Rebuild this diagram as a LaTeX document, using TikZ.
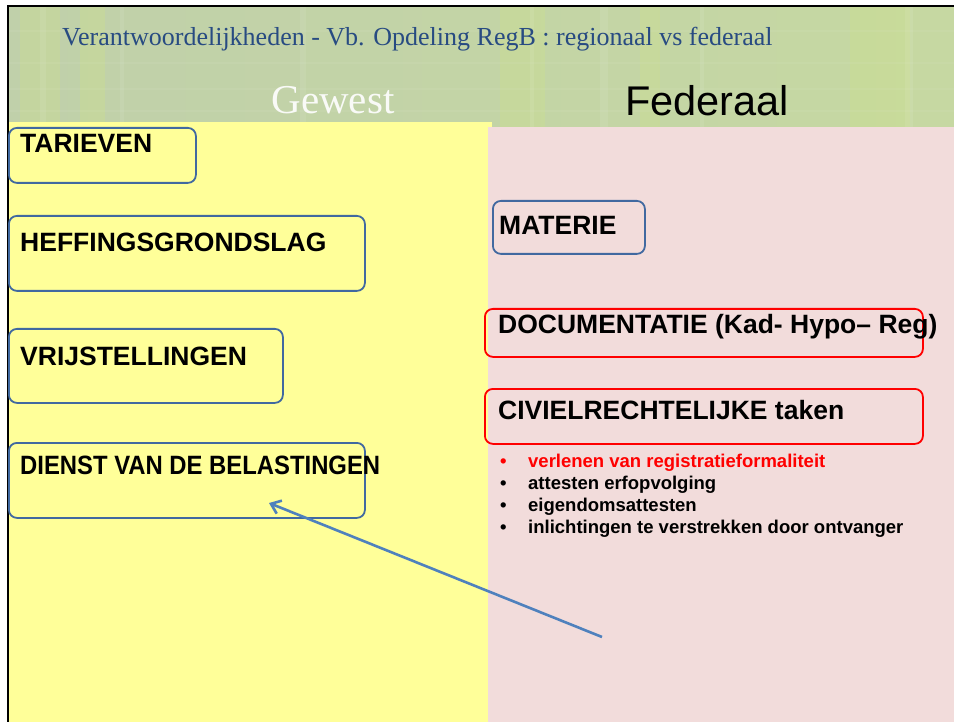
\documentclass[tikz,border=0pt]{standalone}
\usepackage{fontspec}
\setmainfont{Liberation Serif}
\setsansfont{Liberation Sans}
\usetikzlibrary{arrows.meta}
\definecolor{achtergrond}{RGB}{192,208,170}
\definecolor{achtergrondR}{RGB}{198,216,162}
\definecolor{streepgroen}{RGB}{205,225,140}
\definecolor{geel}{RGB}{255,255,153}
\definecolor{roze}{RGB}{242,220,219}
\definecolor{randblauw}{RGB}{65,105,160}
\definecolor{pijlblauw}{RGB}{79,129,189}
\definecolor{titelblauw}{RGB}{40,75,130}
\newcommand{\VakBlauw}[3][]{\node[vak, draw=randblauw, #1] (#2) at (#3) {};}
\newcommand{\VakRood}[3][]{\node[vak, draw=red, #1] (#2) at (#3) {};}
\newcommand{\Kop}[4][]{\node[koptekst, #1] (#2) at (#3) {#4};}

\begin{document}
\begin{tikzpicture}[x=1pt, y=-1pt,
  vak/.style={line width=1.8pt, rounded corners=8pt, anchor=north west, inner sep=0pt},
  koptekst/.style={anchor=base west, inner sep=0pt, font=\sffamily\bfseries\fontsize{26.5}{31}\selectfont},
  punt/.style={anchor=base west, inner sep=0pt, font=\sffamily\bfseries\fontsize{18.5}{22}\selectfont}]
\useasboundingbox (0,0) rectangle (954,722);
\fill[white] (0,0) rectangle (954,722);

% achtergrond bovenaan
\shade[left color=achtergrond, right color=achtergrondR] (8,6) rectangle (954,130);
\foreach \x/\w in {20/40, 80/25, 500/45, 640/20, 850/60}
  \fill[streepgroen, opacity=0.35] (\x,6) rectangle ++(\w,124);
\foreach \x/\w in {40/6, 120/4, 300/6, 530/4, 600/8, 700/4, 905/8}
  \fill[white, opacity=0.08] (\x,6) rectangle ++(\w,124);
\foreach \y in {30, 62, 88, 110}
  \fill[white, opacity=0.05] (8,\y) rectangle (954,\y+2);

% kolommen
\fill[roze] (488,127) rectangle (954,722);
\fill[geel] (8,122) rectangle (488,722);
\fill[geel] (488,122) rectangle (492,127);

% kader
\draw[line width=2.5pt] (8,722) -- (8,6) -- (954,6);

% titels
\node[anchor=base west, inner sep=0pt, text=titelblauw, font=\fontsize{26}{30}\selectfont] (titel) at (62,46) {Verantwoordelijkheden - Vb. Opdeling RegB : regionaal vs federaal};
\node[anchor=base, inner sep=0pt, text=white!90!achtergrond, font=\fontsize{41}{46}\selectfont] (gewest) at (333,114) {Gewest};
\node[anchor=base west, inner sep=0pt, font=\sffamily\fontsize{41.5}{48}\selectfont] (federaal) at (625,116) {Federaal};

% gewest
\VakBlauw[minimum width=187, minimum height=55]{tarieven}{8,127}
\VakBlauw[minimum width=356, minimum height=75]{heffing}{8,215}
\VakBlauw[minimum width=274, minimum height=74]{vrijst}{8,328}
\VakBlauw[minimum width=356, minimum height=75]{dienst}{8,442}
\Kop{tarieventxt}{20,153}{TARIEVEN}
\Kop{heffingtxt}{20,252}{HEFFINGSGRONDSLAG}
\Kop{vrijsttxt}{20,366}{VRIJSTELLINGEN}
\Kop{diensttxt}{20,474}{\scalebox{0.9}[1]{DIENST VAN DE BELASTINGEN}}

% federaal
\VakBlauw[minimum width=152, minimum height=53]{materie}{492,200}
\VakRood[minimum width=438, minimum height=48]{docu}{484,308}
\VakRood[minimum width=438, minimum height=55]{civiel}{484,388}
\Kop{materietxt}{499,235}{MATERIE}
\Kop{docutxt}{498,334}{DOCUMENTATIE (Kad- Hypo– Reg)}
\Kop{civieltxt}{498,419}{CIVIELRECHTELIJKE taken}

\node[punt, text=red] (b1) at (500,467) {•};
\node[punt, text=red] (t1) at (528,467) {verlenen van registratieformaliteit};
\node[punt] (b2) at (500,489) {•};
\node[punt] (t2) at (528,489) {attesten erfopvolging};
\node[punt] (b3) at (500,511) {•};
\node[punt] (t3) at (528,511) {eigendomsattesten};
\node[punt] (b4) at (500,533) {•};
\node[punt] (t4) at (528,533) {inlichtingen te verstrekken door ontvanger};

% pijl
\coordinate (pijlvan) at (602,637);
\coordinate (pijlnaar) at (269,503);
\draw[pijlblauw, line width=2.6pt, -{Straight Barb[length=9pt, width=14pt]}] (pijlvan) -- (pijlnaar);

\end{tikzpicture}
\end{document}
